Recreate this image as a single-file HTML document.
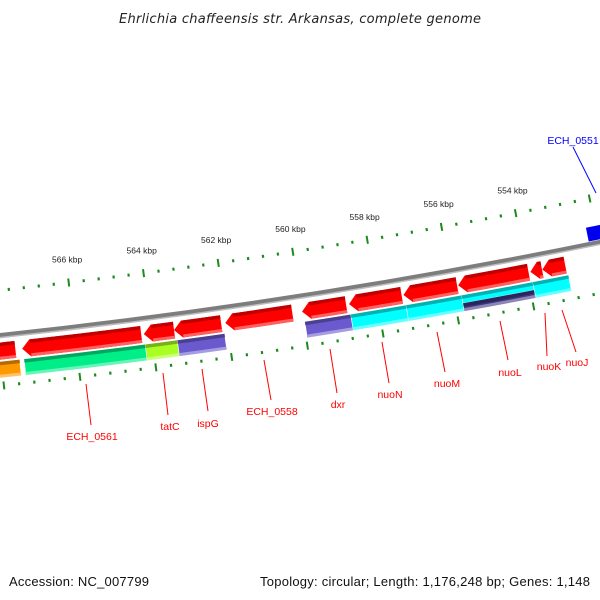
<!DOCTYPE html>
<html><head><meta charset="utf-8">
<style>
html,body{margin:0;padding:0;background:#fff;}
svg{display:block;font-family:"Liberation Sans",sans-serif;}
</style></head>
<body>
<svg id="map" width="600" height="600" viewBox="0 0 600 600" xmlns="http://www.w3.org/2000/svg">
<rect x="0" y="0" width="600" height="600" fill="#fff"/>
<text x="300" y="23" text-anchor="middle" font-family="DejaVu Sans, sans-serif" font-size="13" font-style="italic" fill="#222" textLength="362" lengthAdjust="spacing">Ehrlichia chaffeensis str. Arkansas, complete genome</text>
<text x="9" y="586" font-size="13" fill="#111" textLength="140" lengthAdjust="spacing">Accession: NC_007799</text>
<text x="260" y="586" font-size="13" fill="#111" textLength="330" lengthAdjust="spacing">Topology: circular; Length: 1,176,248 bp; Genes: 1,148</text>
<g id="g"></g>
</svg>
<script>
// data
const fwdStarts = [568.6, 567.42, 564.20, 563.40, 562.04, 560.00, 558.75, 557.30, 555.84, 553.91, 553.59];
const fwdEnds   = [567.60, 564.27, 563.40, 562.15, 560.26, 558.83, 557.35, 555.87, 553.96, 553.60, 552.98];
const cogStarts = [568.6, 567.40, 564.20, 563.35, 559.97, 558.75, 557.28, 555.80, 555.80, 553.90];
const cogEnds   = [567.52, 564.20, 563.35, 562.10, 558.75, 557.28, 555.80, 553.90, 553.90, 552.95];
const cogColors = ["#ff9900","#00ee88","#aaff22","#6a5acd","#6a5acd","#00ffff","#00ffff","#00ffff","#3d3580","#00ffff"];
const cogHalf   = ["full","full","full","full","full","full","full","full","top","full"];
const revStarts = [552.25];
const revEnds   = [550.5];
const tickMajor = [566, 564, 562, 560, 558, 556, 554];
const labelNames = ["ECH_0561","tatC","ispG","ECH_0558","dxr","nuoN","nuoM","nuoL","nuoK","nuoJ"];

// geometry
const A=-682, B=-6028, PHI0=0.1540, DPHI=0.005932;
const R_OUT=6355, R_BB=6400, R_INN=6450;
function phi(k){return PHI0+(560-k)*DPHI;}
function pt(r,p){return [A+r*Math.sin(p), B+r*Math.cos(p)];}
function f(n){return n.toFixed(2);}
const g=document.getElementById('g');
const NS="http://www.w3.org/2000/svg";
function mk(tag,attrs){const e=document.createElementNS(NS,tag);for(const k in attrs)e.setAttribute(k,attrs[k]);g.appendChild(e);return e;}
function sector(r1,r2,k1,k2){
  const p1=phi(k1),p2=phi(k2);
  const a=pt(r1,p1),b=pt(r1,p2),c=pt(r2,p2),d=pt(r2,p1);
  return `M${f(a[0])},${f(a[1])} A${r1},${r1} 0 0 0 ${f(b[0])},${f(b[1])} L${f(c[0])},${f(c[1])} A${r2},${r2} 0 0 1 ${f(d[0])},${f(d[1])} Z`;
}
function arrowLeft(r1,r2,kTip,kEnd){
  const rm=(r1+r2)/2, head=8/rm;
  const pt0=phi(kTip), pn=Math.min(pt0+head, phi(kEnd)), pe=phi(kEnd);
  const tip=pt(rm,pt0), h1=pt(r1,pn), e1=pt(r1,pe), e2=pt(r2,pe), h2=pt(r2,pn);
  return `M${f(tip[0])},${f(tip[1])} L${f(h1[0])},${f(h1[1])} A${r1},${r1} 0 0 0 ${f(e1[0])},${f(e1[1])} L${f(e2[0])},${f(e2[1])} A${r2},${r2} 0 0 1 ${f(h2[0])},${f(h2[1])} Z`;
}

// backbone
(function(){
  const p1=phi(572),p2=phi(548);
  const a=pt(R_BB,p1),b=pt(R_BB,p2);
  let e=mk('path',{d:`M${f(a[0])},${f(a[1])} A${R_BB},${R_BB} 0 0 0 ${f(b[0])},${f(b[1])}`,fill:'none',stroke:'#7d7d7d','stroke-width':5});
  
  
  const c=pt(R_BB+2,p1),d=pt(R_BB+2,p2);
  e=mk('path',{d:`M${f(c[0])},${f(c[1])} A${R_BB+2},${R_BB+2} 0 0 0 ${f(d[0])},${f(d[1])}`,fill:'none',stroke:'#bdbdbd','stroke-width':1.5});
  
  
})();

// ticks
function ticks(r,labels,prefix){
  for(let h=5480;h<=5720;h+=4){
    const k=h/10, p=phi(k), major=(h%20===0);
    const l=major?4:1.5;
    const a=pt(r-l,p),b=pt(r+l,p);
    const e=mk('line',{x1:f(a[0]),y1:f(a[1]),x2:f(b[0]),y2:f(b[1]),stroke:'#1e8a1e','stroke-width':major?2:2.2});
    
    
  }
  if(labels){
    tickMajor.forEach(k=>{
      const q=pt(r-22,phi(k));
      const t=mk('text',{x:f(q[0]+1),y:f(q[1]+2),'text-anchor':'middle','font-size':'8.5',fill:'#222'});
      t.textContent=k+' kbp';
      
      
    });
  }
}
ticks(R_OUT,true,'outer');
ticks(R_INN,false,'inner');

// forward (red) genes
fwdStarts.forEach((s,i)=>{
  const r1=6407,r2=6424;
  let e=mk('path',{d:arrowLeft(r1,r2,s,fwdEnds[i]),fill:'#ff0000'});
  
  
  e=mk('path',{d:sector(r1,r1+3.5,s-0.22,fwdEnds[i]),fill:'#c00000'});
  
  
  e=mk('path',{d:sector(r2-3,r2,s-0.22,fwdEnds[i]),fill:'#ff6060'});
  
  
});

// COG ring
function shade(hex,amt){const n=parseInt(hex.slice(1),16);let r=n>>16,gg=(n>>8)&255,b=n&255;
  const m=x=>Math.max(0,Math.min(255,Math.round(amt<0?x*(1+amt):x+(255-x)*amt)));
  return `rgb(${m(r)},${m(gg)},${m(b)})`;}
cogStarts.forEach((s,i)=>{
  let r1=6426,r2=6442;
  if(cogHalf[i]==='top'){r1=6434;}
  const col=cogColors[i];
  let e=mk('path',{d:sector(r1,r2,s,cogEnds[i]),fill:col,stroke:'#fff','stroke-width':0.6});
  
  
  e=mk('path',{d:sector(r1,r1+3.5,s,cogEnds[i]),fill:shade(col,-0.3)});
  
  
  e=mk('path',{d:sector(r2-3,r2,s,cogEnds[i]),fill:shade(col,0.4)});
  
  
});

// reverse gene (blue)
revStarts.forEach((s,i)=>{
  const e=mk('path',{d:sector(6383,6397,s,revEnds[i]),fill:'#0000ee'});
  
  
});

// labels (layout positions)
const labelLayout=[[86,384,91,425,92,440],[163,373,168,415,170,430],[202,369,208,411,208,427],[264,360,271,400,272,415],
  [330,349,337,393,338,408],[382,342,389,383,390,398],[437,332,445,372,447,387],[500,321,508,360,510,376],[545,313,547,356,549,370],[562,310,576,352,577,366]];
labelNames.forEach((n,i)=>{
  const L=labelLayout[i];
  let e=mk('line',{x1:L[0],y1:L[1],x2:L[2],y2:L[3],stroke:'#ff0000','stroke-width':1});
  
  
  e=mk('text',{x:L[4],y:L[5],'text-anchor':'middle','font-size':'10.5',fill:'#ff0000'});
  e.textContent=n;
  
  
});
(function(){
  let e=mk('line',{x1:573,y1:147,x2:596,y2:193,stroke:'#0000ff','stroke-width':1});
  
  
  e=mk('text',{x:573,y:144,'text-anchor':'middle','font-size':'10.5',fill:'#0000ff'});
  e.textContent='ECH_0551';
  
  
})();
</script>
</body></html>
